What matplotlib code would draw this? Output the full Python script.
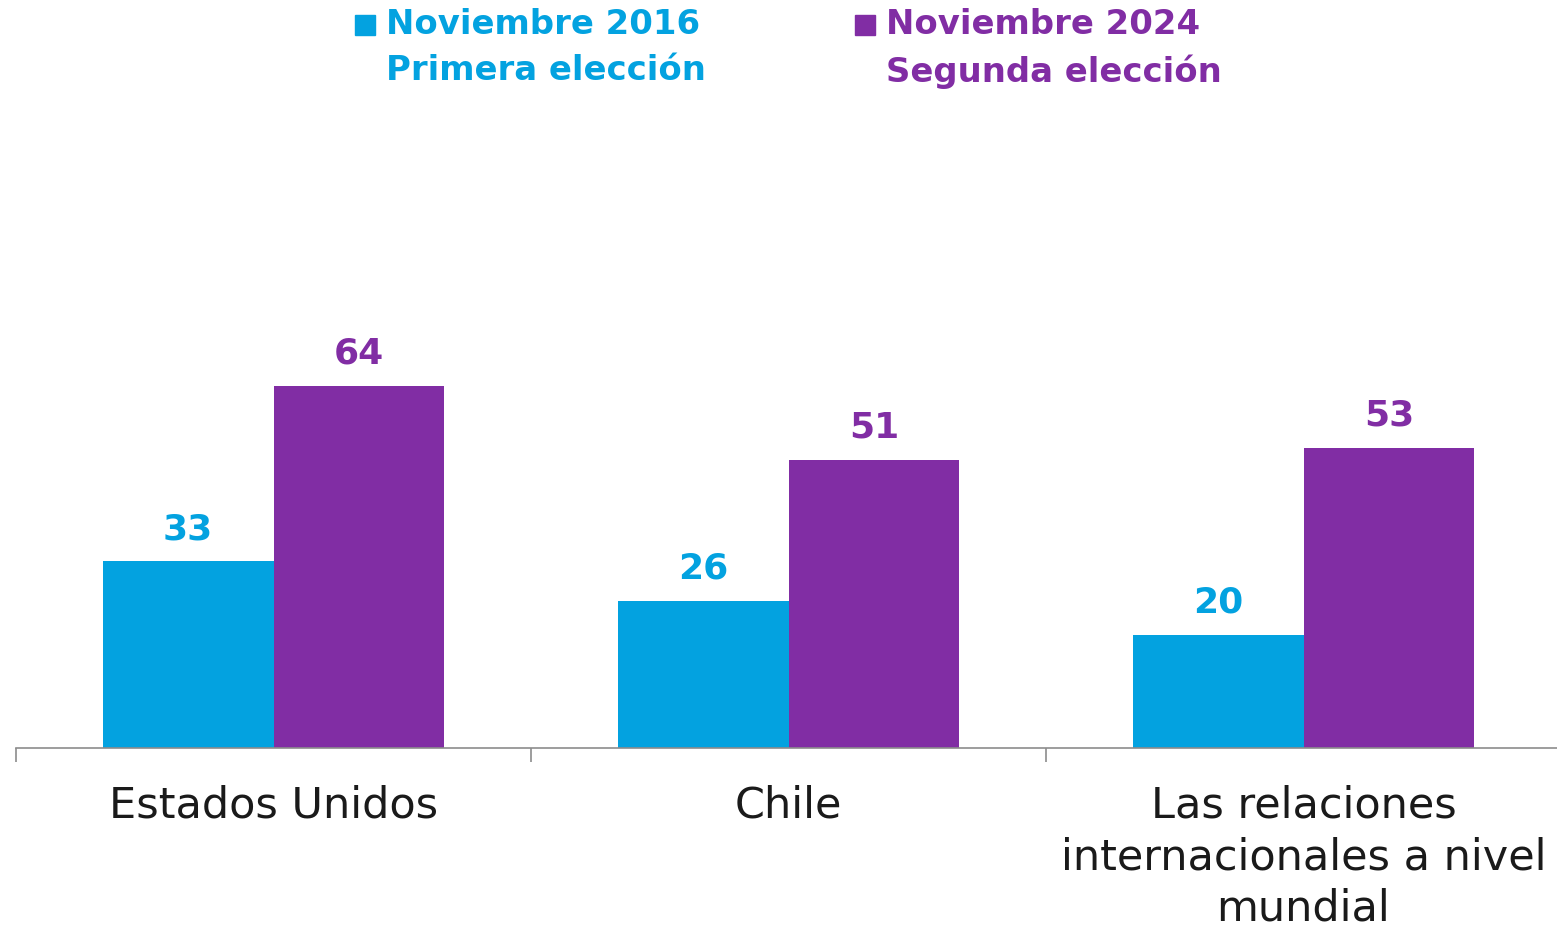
import matplotlib
matplotlib.use("Agg")
import matplotlib.pyplot as plt
from matplotlib.patches import Rectangle
import numpy as np

plt.rcParams['font.family'] = ['DejaVu Sans']

# Datos
categorias = ['Estados Unidos', 'Chile', 'Las relaciones\ninternacionales a nivel\nmundial']
valores_2016 = [33, 26, 20]
valores_2024 = [64, 51, 53]
serie_2016 = 'Noviembre 2016\nPrimera elección'
serie_2024 = 'Noviembre 2024\nSegunda elección'

azul = '#03A2E0'
morado = '#812DA4'

W, H = 1557, 927
fig = plt.figure(figsize=(W / 100, H / 100), dpi=100)
ax = fig.add_axes([16 / W, (H - 748) / H, 1545 / W, 648 / H])

x = np.arange(len(categorias))
ancho = 0.332
b1 = ax.bar(x - ancho / 2, valores_2016, ancho, color=azul)
b2 = ax.bar(x + ancho / 2, valores_2024, ancho, color=morado)

# etiquetas de valores encima de las barras
for barras, color in [(b1, azul), (b2, morado)]:
    for b in barras:
        ax.annotate(f"{b.get_height():.0f}", (b.get_x() + b.get_width() / 2, b.get_height()),
                    xytext=(0, 11), textcoords='offset points', ha='center', va='bottom',
                    fontsize=26, fontweight='bold', color=color)

ax.set_xlim(-0.5, 2.5)
ax.set_ylim(0, 648 / 5.656)
for s in ['top', 'right', 'left']:
    ax.spines[s].set_visible(False)
ax.spines['bottom'].set_color('#8c8c8c')
ax.spines['bottom'].set_linewidth(1.2)
ax.set_yticks([])
ax.set_xticks(x)
ax.set_xticklabels(categorias, fontsize=31, color='#1a1a1a', linespacing=1.3)
ax.tick_params(axis='x', which='major', length=0, pad=26)
ax.set_xticks([-0.5, 0.5, 1.5, 2.5], minor=True)
ax.tick_params(axis='x', which='minor', length=10, width=1.2, color='#8c8c8c')

# Leyenda
for (px, texto, color) in [(355, serie_2016, azul), (855, serie_2024, morado)]:
    fig.patches.append(Rectangle((px / W, (H - 35) / H), 20 / W, 20 / H,
                                 transform=fig.transFigure, color=color))
    fig.text((px + 31) / W, (H - 8) / H, texto, fontsize=24.4, fontweight='bold',
             color=color, ha='left', va='top', linespacing=1.5)

fig.savefig('out.png', dpi=100)
